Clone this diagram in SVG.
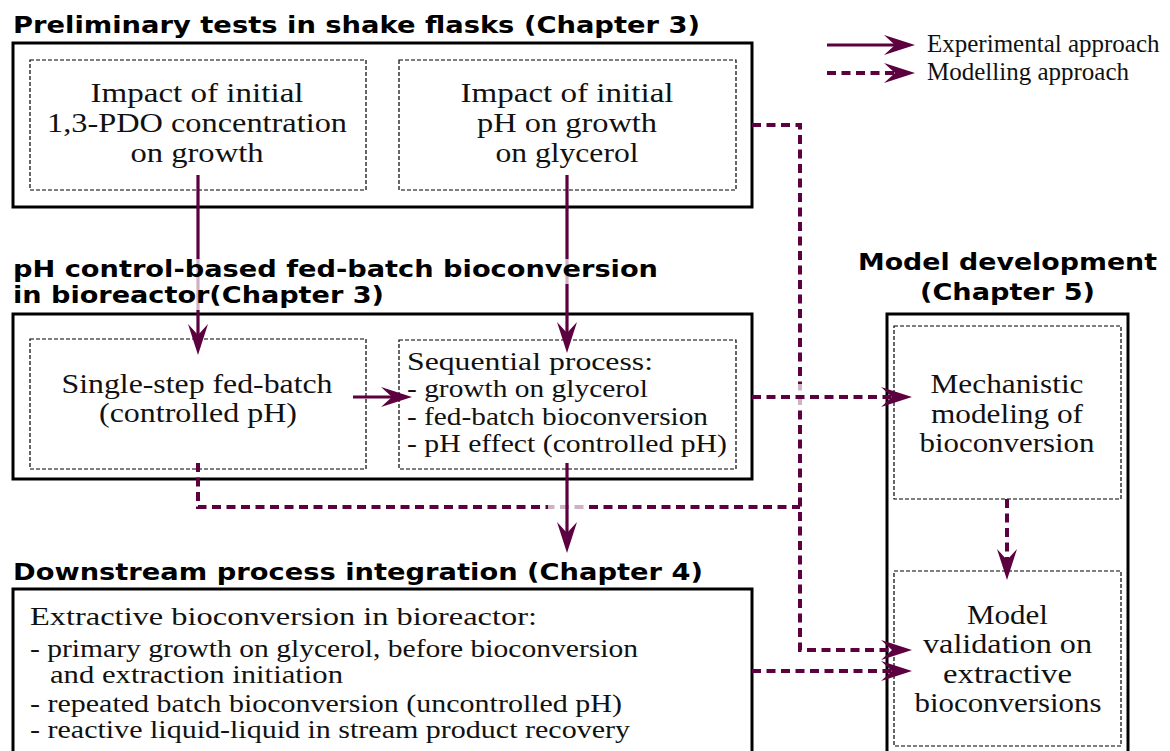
<svg xmlns="http://www.w3.org/2000/svg" width="1170" height="751" viewBox="0 0 1170 751">
<style>
.outer{fill:none;stroke:#000;stroke-width:3}
.inner{fill:none;stroke:#000;stroke-width:1.2;stroke-dasharray:4 2}
.title{font-family:"DejaVu Sans",sans-serif;font-weight:bold;font-size:23px;fill:#000}
.body{font-family:"Liberation Serif","Times New Roman",serif;font-size:28px;fill:#111}
.list{font-size:25.5px}
.leg{font-family:"Liberation Serif","Times New Roman",serif;font-size:25px;fill:#111}
.solid{fill:none;stroke:#5c0040;stroke-width:3.2}
.dash{fill:none;stroke:#5c0040;stroke-width:4;stroke-dasharray:9 5.5}
.halo{fill:#fff;fill-opacity:0.7}
</style>
<defs>
<marker id="ah" markerUnits="userSpaceOnUse" markerWidth="40" markerHeight="30" refX="0" refY="0" orient="auto" overflow="visible">
<path d="M20,0 L-11,-10 L0,0 L-11,10 Z" fill="#5c0040"/>
</marker>
</defs>
<rect width="1170" height="751" fill="#fff"/>

<g id="legend">
<path class="solid" d="M827,45 H895" marker-end="url(#ah)"/>
<path class="dash" d="M827,73 H895" marker-end="url(#ah)"/>
<text class="leg" x="927" y="52">Experimental approach</text>
<text class="leg" x="927" y="80">Modelling approach</text>
</g>

<g id="prelim">
<rect class="outer" x="13" y="43" width="739" height="164"/>
<text class="title" x="13" y="33" textLength="687" lengthAdjust="spacingAndGlyphs">Preliminary tests in shake flasks (Chapter 3)</text>
</g>
<g id="pdo">
<rect class="inner" x="30" y="60" width="336" height="130"/>
<text class="body" text-anchor="middle" x="197" y="102" textLength="213" lengthAdjust="spacingAndGlyphs">Impact of initial</text>
<text class="body" text-anchor="middle" x="197" y="132" textLength="300" lengthAdjust="spacingAndGlyphs">1,3-PDO concentration</text>
<text class="body" text-anchor="middle" x="197" y="162" textLength="133" lengthAdjust="spacingAndGlyphs">on growth</text>
</g>
<g id="ph">
<rect class="inner" x="399" y="60" width="337" height="130"/>
<text class="body" text-anchor="middle" x="567" y="102" textLength="213" lengthAdjust="spacingAndGlyphs">Impact of initial</text>
<text class="body" text-anchor="middle" x="567" y="132" textLength="180" lengthAdjust="spacingAndGlyphs">pH on growth</text>
<text class="body" text-anchor="middle" x="567" y="162" textLength="143" lengthAdjust="spacingAndGlyphs">on glycerol</text>
</g>

<g id="fedbatch">
<rect class="outer" x="13" y="314" width="739" height="165"/>
</g>
<g id="single">
<rect class="inner" x="30" y="339" width="336" height="130"/>
<text class="body" text-anchor="middle" x="197" y="393" textLength="271" lengthAdjust="spacingAndGlyphs">Single-step fed-batch</text>
<text class="body" text-anchor="middle" x="198" y="422" textLength="198" lengthAdjust="spacingAndGlyphs">(controlled pH)</text>
</g>
<g id="sequential">
<rect class="inner" x="399" y="340" width="337" height="129"/>
<text class="body list" x="407" y="370" textLength="246" lengthAdjust="spacingAndGlyphs">Sequential process:</text>
<text class="body list" x="407" y="397" textLength="241" lengthAdjust="spacingAndGlyphs">- growth on glycerol</text>
<text class="body list" x="407" y="425" textLength="301" lengthAdjust="spacingAndGlyphs">- fed-batch bioconversion</text>
<text class="body list" x="407" y="452" textLength="320" lengthAdjust="spacingAndGlyphs">- pH effect (controlled pH)</text>
</g>

<g id="downstream">
<rect class="outer" x="13" y="589" width="739" height="175"/>
<text class="title" x="13" y="580" textLength="690" lengthAdjust="spacingAndGlyphs">Downstream process integration (Chapter 4)</text>
<text class="body list" x="30" y="625" textLength="507" lengthAdjust="spacingAndGlyphs">Extractive bioconversion in bioreactor:</text>
<text class="body list" x="30" y="657" textLength="608" lengthAdjust="spacingAndGlyphs">- primary growth on glycerol, before bioconversion</text>
<text class="body list" x="50" y="683" textLength="293" lengthAdjust="spacingAndGlyphs">and extraction initiation</text>
<text class="body list" x="30" y="712" textLength="592" lengthAdjust="spacingAndGlyphs">- repeated batch bioconversion (uncontrolled pH)</text>
<text class="body list" x="30" y="738" textLength="600" lengthAdjust="spacingAndGlyphs">- reactive liquid-liquid in stream product recovery</text>
</g>

<g id="modeldev">
<rect class="outer" x="887" y="314" width="241" height="450"/>
<text class="title" text-anchor="middle" x="1007.5" y="270" textLength="299" lengthAdjust="spacingAndGlyphs">Model development</text>
<text class="title" text-anchor="middle" x="1007.5" y="300" textLength="175" lengthAdjust="spacingAndGlyphs">(Chapter 5)</text>
</g>
<g id="mechanistic">
<rect class="inner" x="894" y="326" width="227" height="173"/>
<text class="body" text-anchor="middle" x="1007" y="393" textLength="153" lengthAdjust="spacingAndGlyphs">Mechanistic</text>
<text class="body" text-anchor="middle" x="1007" y="423" textLength="152" lengthAdjust="spacingAndGlyphs">modeling of</text>
<text class="body" text-anchor="middle" x="1007" y="452" textLength="175" lengthAdjust="spacingAndGlyphs">bioconversion</text>
</g>
<g id="validation">
<rect class="inner" x="894" y="571" width="227" height="175"/>
<text class="body" text-anchor="middle" x="1007.5" y="624" textLength="81" lengthAdjust="spacingAndGlyphs">Model</text>
<text class="body" text-anchor="middle" x="1007.5" y="653" textLength="169" lengthAdjust="spacingAndGlyphs">validation on</text>
<text class="body" text-anchor="middle" x="1007.5" y="683" textLength="129" lengthAdjust="spacingAndGlyphs">extractive</text>
<text class="body" text-anchor="middle" x="1008" y="712" textLength="187" lengthAdjust="spacingAndGlyphs">bioconversions</text>
</g>

<g id="connectors">
<path class="dash" d="M752,125 H800 V650 H892" marker-end="url(#ah)"/>
<path class="dash" d="M198,463 V507 H800"/>
<rect class="halo" x="796" y="384" width="8" height="26"/>
<path class="dash" d="M752,397 H892" marker-end="url(#ah)"/>
<path class="dash" d="M752,671 H892" marker-end="url(#ah)"/>
<path class="dash" d="M1007,499 V560" marker-end="url(#ah)"/>
<path class="solid" d="M198,175 V335" marker-end="url(#ah)"/>
<path class="solid" d="M567,175 V333" marker-end="url(#ah)"/>
<path class="solid" d="M353,397 H392" marker-end="url(#ah)"/>
<rect class="halo" x="548" y="502" width="38" height="10"/>
<path class="solid" d="M567,463 V533" marker-end="url(#ah)"/>
</g>

<g id="fedbatch-title">
<rect class="halo" x="13" y="259" width="646" height="25"/>
<rect class="halo" x="13" y="284" width="372" height="26"/>
<text class="title" x="13" y="277" textLength="645" lengthAdjust="spacingAndGlyphs">pH control-based fed-batch bioconversion</text>
<text class="title" x="13" y="303" textLength="371" lengthAdjust="spacingAndGlyphs">in bioreactor(Chapter 3)</text>
</g>
</svg>
